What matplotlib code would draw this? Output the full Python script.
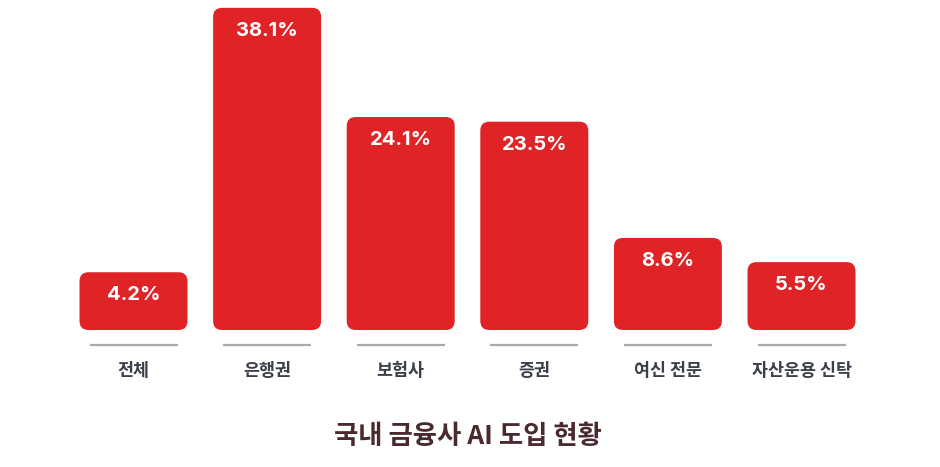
import matplotlib
matplotlib.use("Agg")
import matplotlib.pyplot as plt
from matplotlib.patches import FancyBboxPatch
import matplotlib.transforms as mtransforms

plt.rcParams["font.family"] = ["Noto Sans CJK KR", "DejaVu Sans"]

categories = ["전체", "은행권", "보험사", "증권", "여신 전문", "자산운용 신탁"]
values = [4.2, 38.1, 24.1, 23.5, 8.6, 5.5]
title = "국내 금융사 AI 도입 현황"

BAR_COLOR = "#e02326"
LINE_COLOR = "#aaaaaa"
LABEL_COLOR = "#3a3f4a"
TITLE_COLOR = "#4a2b2d"

W, H, DPI = 940, 467, 100
fig = plt.figure(figsize=(W / DPI, H / DPI), dpi=DPI)
ax = fig.add_axes([0, 0, 1, 1])
ax.axis("off")

# pixel layout (bar centers every ~133.6 px, value scale ~7.8 px per %)
x_step = 133.6
x0 = 133.5
y_scale = 7.8
y_off = 25.0
y_base_px = 137 + y_off  # pixel height (from bottom) of value 0
ax.set_xlim(-x0 / x_step, (W - x0) / x_step)
ax.set_ylim(-y_base_px / y_scale, (H - y_base_px) / y_scale)
bar_bottom = -y_off / y_scale

bar_w = 108 / x_step
radius = 9 / x_step
aspect = x_step / y_scale

for i, v in enumerate(values):
    box = FancyBboxPatch(
        (i - bar_w / 2, bar_bottom), bar_w, v - bar_bottom,
        boxstyle=f"round,pad=0,rounding_size={radius}",
        mutation_aspect=aspect,
        facecolor=BAR_COLOR, edgecolor="none",
    )
    ax.add_patch(box)
    ax.annotate(f"{v}%", xy=(i, v), xytext=(0, -16.5), textcoords="offset points",
                ha="center", va="center", color="white",
                fontsize=14.5, fontweight="bold", family=["Inter", "DejaVu Sans"])

trans = mtransforms.blended_transform_factory(ax.transData, ax.transAxes)
line_half = 44 / x_step
for i, cat in enumerate(categories):
    ax.plot([i - line_half, i + line_half], [1 - 345 / H] * 2, transform=trans,
            color=LINE_COLOR, lw=1.6, solid_capstyle="butt")
    ax.text(i, 1 - 371 / H, cat, transform=trans, ha="center", va="center",
            color=LABEL_COLOR, fontsize=12.5, fontweight="bold")

fig.text(468 / W, 1 - 437 / H, title, ha="center", va="center",
         color=TITLE_COLOR, fontsize=19, fontweight="bold")

fig.savefig("out.png", dpi=DPI, facecolor="white")
